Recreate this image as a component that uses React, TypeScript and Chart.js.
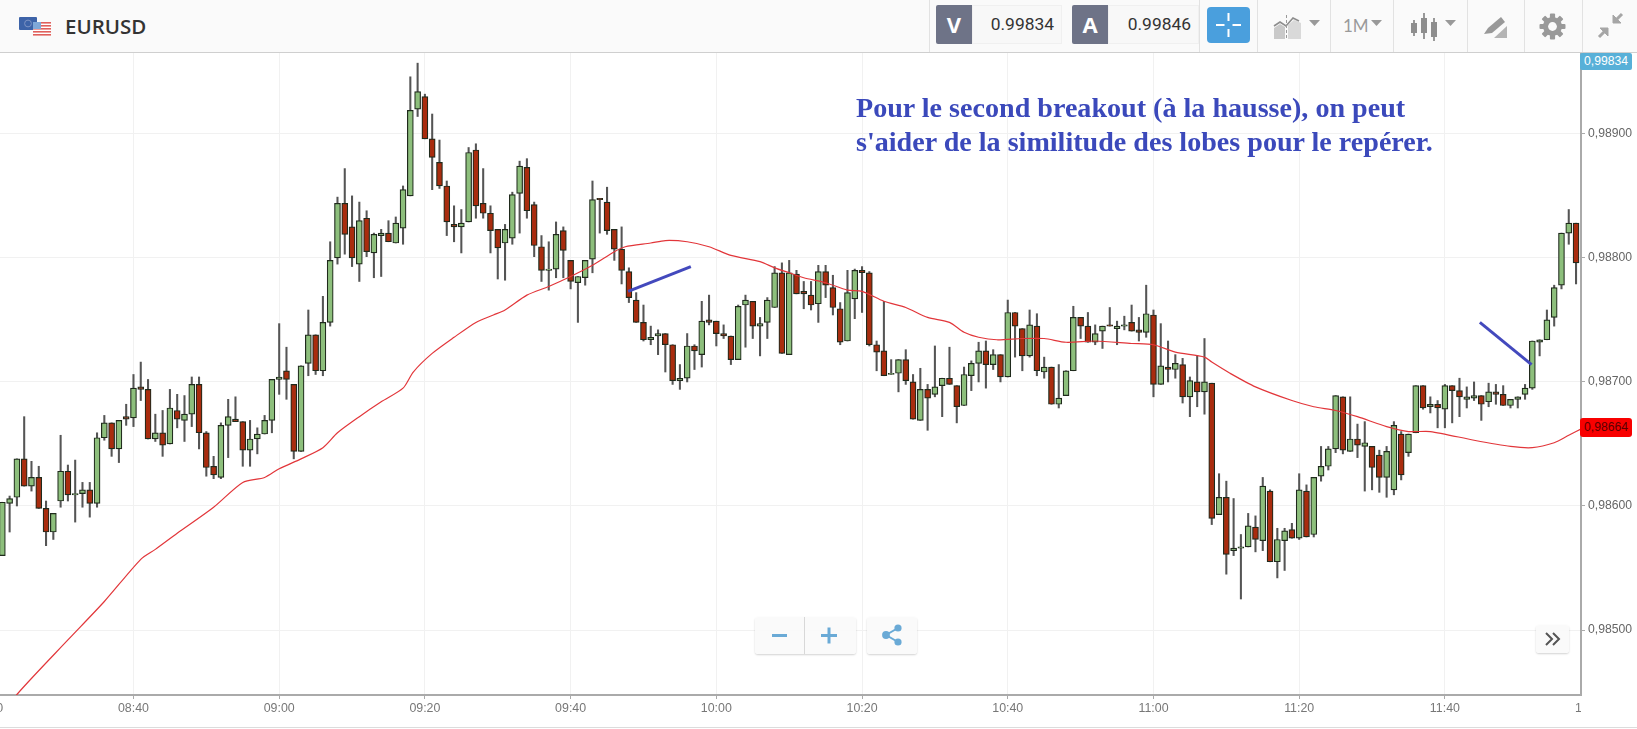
import React, { useEffect, useRef } from "react";
import { Chart, registerables } from "chart.js";

Chart.register(...registerables);

// Prices are in points of 0.00001. First candle is 18 minutes before 08:40.
const firstMinute = -18;
const opens = [
  98560, 98602, 98607, 98638, 98616, 98623, 98598, 98579, 98604, 98628,
  98609, 98610, 98613, 98602, 98655, 98667, 98646, 98672,
  98671, 98696, 98694, 98654, 98659, 98650, 98677, 98669, 98674, 98698,
  98659, 98632, 98623, 98665, 98670, 98668, 98645, 98654, 98658, 98669,
  98702, 98709, 98698, 98644, 98715, 98738, 98709, 98748, 98800, 98844,
  98825, 98795, 98832, 98804, 98818, 98820, 98812, 98824, 98850, 98920,
  98930, 98896, 98877, 98858, 98827, 98825, 98829, 98887, 98844, 98836,
  98823, 98812, 98816, 98852, 98873, 98843, 98809, 98790, 98791, 98822,
  98798, 98780, 98784, 98799, 98848, 98845, 98823, 98807, 98789, 98766,
  98748, 98734, 98737, 98739, 98730, 98701, 98703, 98729, 98722, 98750,
  98749, 98739, 98737, 98718, 98762, 98765, 98745, 98748, 98760, 98788,
  98722, 98787, 98773, 98770, 98763, 98789, 98776, 98759, 98733, 98767,
  98790, 98788, 98730, 98725, 98706, 98707, 98718, 98700, 98669, 98694,
  98690, 98697, 98703, 98697, 98681, 98705, 98715, 98725, 98714, 98722,
  98704, 98756, 98743, 98721, 98745, 98708, 98712, 98682, 98689, 98709,
  98752, 98745, 98732, 98741, 98746, 98743, 98745, 98748, 98742, 98740,
  98754, 98698, 98712, 98710, 98714, 98688, 98700, 98692, 98699, 98593,
  98607, 98564, 98566, 98567, 98583, 98572, 98612, 98555, 98572, 98581,
  98574, 98612, 98577, 98624, 98632, 98646, 98688, 98644, 98654, 98648,
  98648, 98641, 98623, 98613, 98658, 98643, 98659, 98697, 98680, 98682,
  98678, 98697, 98693, 98686, 98687, 98689, 98684, 98692, 98690, 98681,
  98686, 98690, 98695, 98732, 98734, 98752, 98778, 98820, 98828,
];
const closes = [
  98603, 98606, 98638, 98616, 98623, 98598, 98579, 98594, 98628, 98609,
  98609, 98613, 98602, 98655, 98667, 98646, 98669, 98670,
  98695, 98694, 98654, 98659, 98649, 98679, 98670, 98674, 98698, 98659,
  98631, 98625, 98665, 98672, 98668, 98645, 98654, 98658, 98669, 98702,
  98704, 98702, 98644, 98713, 98738, 98709, 98748, 98798, 98844, 98819,
  98800, 98830, 98805, 98819, 98820, 98813, 98828, 98855, 98919, 98934,
  98896, 98881, 98858, 98829, 98825, 98828, 98885, 98842, 98836, 98822,
  98808, 98823, 98851, 98874, 98838, 98810, 98790, 98791, 98819, 98806,
  98781, 98785, 98798, 98847, 98847, 98822, 98807, 98790, 98768, 98748,
  98734, 98736, 98739, 98730, 98701, 98703, 98729, 98725, 98749, 98748,
  98739, 98737, 98718, 98761, 98766, 98745, 98747, 98766, 98788, 98723,
  98788, 98771, 98771, 98762, 98789, 98778, 98760, 98732, 98772, 98790,
  98788, 98730, 98724, 98705, 98707, 98718, 98701, 98670, 98694, 98687,
  98696, 98703, 98698, 98680, 98706, 98715, 98725, 98714, 98722, 98704,
  98756, 98745, 98721, 98746, 98709, 98712, 98682, 98687, 98709, 98752,
  98745, 98732, 98739, 98745, 98745, 98745, 98746, 98741, 98740, 98755,
  98698, 98713, 98710, 98715, 98688, 98701, 98692, 98700, 98590, 98607,
  98561, 98566, 98566, 98584, 98573, 98616, 98555, 98573, 98580, 98574,
  98613, 98575, 98623, 98632, 98646, 98689, 98645, 98654, 98649, 98651,
  98631, 98623, 98644, 98665, 98625, 98658, 98697, 98679, 98682, 98679,
  98697, 98693, 98688, 98688, 98689, 98682, 98692, 98690, 98681, 98686,
  98688, 98695, 98733, 98734, 98750, 98776, 98820, 98828, 98796,
];
const highs = [
  98603, 98608, 98638, 98672, 98636, 98632, 98604, 98594, 98657, 98633,
  98637, 98619, 98619, 98659, 98673, 98667, 98669, 98682,
  98706, 98716, 98702, 98674, 98677, 98694, 98690, 98689, 98704, 98704,
  98660, 98640, 98667, 98686, 98688, 98668, 98669, 98663, 98673, 98702,
  98747, 98728, 98698, 98713, 98758, 98738, 98769, 98813, 98849, 98872,
  98850, 98845, 98838, 98820, 98823, 98830, 98833, 98858, 98946, 98957,
  98932, 98916, 98895, 98862, 98842, 98839, 98889, 98892, 98872, 98842,
  98823, 98827, 98853, 98878, 98880, 98845, 98818, 98813, 98829, 98825,
  98798, 98785, 98798, 98862, 98848, 98857, 98823, 98825, 98792, 98772,
  98762, 98745, 98742, 98739, 98730, 98714, 98739, 98730, 98765, 98770,
  98749, 98746, 98737, 98762, 98770, 98765, 98752, 98768, 98793, 98796,
  98798, 98790, 98781, 98781, 98794, 98794, 98786, 98764, 98790, 98791,
  98793, 98789, 98733, 98765, 98718, 98718, 98726, 98706, 98711, 98698,
  98729, 98703, 98728, 98697, 98712, 98717, 98732, 98733, 98726, 98722,
  98766, 98756, 98743, 98758, 98755, 98720, 98712, 98714, 98709, 98761,
  98752, 98756, 98746, 98745, 98760, 98749, 98753, 98762, 98752, 98778,
  98758, 98747, 98733, 98722, 98719, 98704, 98721, 98735, 98699, 98626,
  98620, 98606, 98577, 98594, 98592, 98623, 98613, 98582, 98582, 98586,
  98626, 98617, 98623, 98648, 98648, 98689, 98688, 98688, 98666, 98668,
  98648, 98645, 98648, 98668, 98660, 98658, 98697, 98697, 98688, 98685,
  98698, 98697, 98703, 98696, 98700, 98689, 98699, 98698, 98697, 98686,
  98688, 98698, 98733, 98734, 98758, 98778, 98820, 98839, 98828,
];
const lows = [
  98560, 98579, 98600, 98616, 98612, 98598, 98568, 98573, 98599, 98604,
  98587, 98599, 98591, 98599, 98653, 98640, 98635, 98665,
  98664, 98685, 98654, 98652, 98640, 98650, 98663, 98652, 98664, 98646,
  98624, 98622, 98622, 98639, 98668, 98632, 98632, 98642, 98658, 98659,
  98690, 98686, 98638, 98644, 98705, 98706, 98705, 98745, 98795, 98803,
  98793, 98781, 98801, 98784, 98785, 98813, 98812, 98811, 98850, 98914,
  98896, 98855, 98856, 98818, 98813, 98804, 98829, 98832, 98832, 98804,
  98783, 98782, 98811, 98820, 98832, 98801, 98781, 98774, 98784, 98784,
  98775, 98748, 98778, 98788, 98820, 98819, 98798, 98779, 98764, 98748,
  98733, 98730, 98722, 98708, 98698, 98694, 98700, 98710, 98712, 98746,
  98729, 98735, 98714, 98718, 98728, 98735, 98721, 98735, 98760, 98723,
  98722, 98771, 98759, 98758, 98748, 98768, 98754, 98730, 98733, 98751,
  98756, 98729, 98709, 98705, 98706, 98692, 98698, 98670, 98669, 98661,
  98688, 98672, 98698, 98667, 98681, 98693, 98700, 98695, 98710, 98700,
  98704, 98720, 98709, 98720, 98705, 98703, 98682, 98679, 98689, 98709,
  98735, 98732, 98730, 98727, 98745, 98730, 98742, 98741, 98733, 98736,
  98688, 98698, 98700, 98703, 98683, 98672, 98680, 98674, 98585, 98593,
  98545, 98560, 98525, 98567, 98563, 98564, 98555, 98542, 98548, 98574,
  98573, 98575, 98575, 98620, 98629, 98643, 98642, 98644, 98639, 98612,
  98613, 98611, 98607, 98609, 98621, 98640, 98659, 98678, 98675, 98663,
  98663, 98667, 98672, 98679, 98685, 98669, 98680, 98682, 98681, 98679,
  98679, 98686, 98694, 98721, 98734, 98745, 98775, 98811, 98779,
];

// Moving average, read at these minutes.
const maMinutes = [
  -18, -16, -9, -4, 1, 3, 6, 11, 15, 18, 20, 23, 26, 28, 31, 34, 37, 38.4, 41, 44, 47, 49.4, 51, 54, 57,
  60, 63, 66, 67.5, 71, 73, 76, 79, 82, 86, 88, 90, 92, 95, 98, 100, 103, 106, 109, 112, 114, 116,
  118.5, 122, 125, 128, 132, 137, 140, 143, 147, 148, 150.5, 154, 159, 162, 165, 168, 172, 175,
  178, 184, 189, 192, 195, 197, 199,
];
const maValues = [
  98430, 98448, 98492, 98523, 98557, 98565, 98578, 98599, 98619, 98623, 98630, 98638, 98647, 98659, 98672, 98684,
  98695, 98708, 98723, 98736, 98748, 98754, 98758, 98770, 98777,
  98785, 98794, 98805, 98809, 98812, 98814, 98813, 98809, 98802, 98797, 98792, 98788, 98784, 98780,
  98774, 98773, 98765, 98760, 98752, 98748, 98740, 98736,
  98734, 98735, 98735, 98732, 98733, 98731, 98730, 98724, 98720, 98716, 98707, 98696, 98685, 98680,
  98677, 98672, 98664, 98660,
  98660, 98653, 98648, 98647, 98651, 98657, 98663,
];

// Hand drawn trend lines.
const trendOneMinutes = [67.9, 76.5];
const trendOneValues = [98773, 98793];
const trendTwoMinutes = [184.8, 191.9];
const trendTwoValues = [98748, 98714];

// Time axis.
const tickMinutes = [-20, 0, 20, 40, 60, 80, 100, 120, 140, 160, 180, 200];
const tickLabels = ["08:20", "08:40", "09:00", "09:20", "09:40", "10:00", "10:20", "10:40", "11:00", "11:20", "11:40", "12:00"];
const priceTicks = [98500, 98600, 98700, 98800, 98900];

const bidPrice = "0.99834";
const askPrice = "0.99846";
const bidTag = "0,99834";
const maTag = "0,98664";
const symbol = "EURUSD";
const noteLines = ["Pour le second breakout (à la hausse), on peut", "s'aider de la similitude des lobes pour le repérer."];

const X_MIN = -18.32;
const X_MAX = 198.68;
const Y_MIN = 98447.6;
const Y_MAX = 98966;

const GREEN = "#8dbf7c";
const RED = "#a92c0e";

const edgeLabels = {
  id: "edgeLabels",
  afterDraw(chart: any) {
    const { ctx, chartArea, scales } = chart;
    ctx.save();
    ctx.beginPath();
    ctx.rect(chartArea.left, chartArea.bottom, chartArea.right - chartArea.left, 40);
    ctx.clip();
    ctx.font = "12.4px 'Liberation Sans'";
    ctx.fillStyle = "#777";
    ctx.textAlign = "center";
    ctx.textBaseline = "middle";
    [0, tickMinutes.length - 1].forEach((i) => {
      ctx.fillText(tickLabels[i], scales.x.getPixelForValue(tickMinutes[i]), 709);
    });
    ctx.restore();
  },
};

function PriceChart() {
  const ref = useRef<HTMLCanvasElement>(null);
  useEffect(() => {
    const minute = (i: number) => firstMinute + i;
    const up = opens.map((o, i) => closes[i] >= o);
    const chart = new Chart(ref.current as any, {
      type: "bar",
      data: {
        datasets: [
          {
            type: "line",
            data: maMinutes.map((x, i) => ({ x, y: maValues[i] })),
            borderColor: "#e2363a",
            borderWidth: 1.2,
            pointRadius: 0,
            tension: 0.25,
            order: 1,
          },
          {
            type: "line",
            data: trendOneMinutes.map((x, i) => ({ x, y: trendOneValues[i] })),
            borderColor: "#4349bd",
            borderWidth: 3,
            pointRadius: 0,
            order: 0,
          },
          {
            type: "line",
            data: trendTwoMinutes.map((x, i) => ({ x, y: trendTwoValues[i] })),
            borderColor: "#4349bd",
            borderWidth: 3,
            pointRadius: 0,
            order: 0,
          },
          {
            data: opens.map((o, i) => ({
              x: minute(i),
              y: [Math.min(o, closes[i]), Math.max(o, closes[i]) + (o === closes[i] ? 1 : 0)],
            })),
            backgroundColor: up.map((u) => (u ? GREEN : RED)),
            borderColor: "#1f2a1c",
            borderWidth: 1.2,
            borderSkipped: false,
            barThickness: 6,
            grouped: false,
            order: 2,
          },
          {
            data: lows.map((l, i) => ({ x: minute(i), y: [l, highs[i]] })),
            backgroundColor: "#555",
            borderWidth: 0,
            barThickness: 1.4,
            grouped: false,
            order: 3,
          },
        ],
      } as any,
      options: {
        animation: false,
        responsive: false,
        maintainAspectRatio: false,
        layout: { padding: { top: 52, left: 0, right: 0, bottom: 0 } },
        plugins: { legend: { display: false }, tooltip: { enabled: false } },
        scales: {
          x: {
            type: "linear",
            offset: false,
            min: X_MIN,
            max: X_MAX,
            afterFit: (s: any) => {
              s.height = 34;
            },
            afterBuildTicks: (s: any) => {
              s.ticks = tickMinutes.filter((m) => m >= X_MIN && m <= X_MAX).map((value) => ({ value }));
            },
            grid: { offset: false, color: "#f1f1f1", tickColor: "#aaa", tickLength: 4, lineWidth: 1 },
            border: { color: "#aaa", width: 2 },
            ticks: {
              autoSkip: false,
              maxRotation: 0,
              padding: 2,
              color: "#777",
              font: { family: "'Liberation Sans'", size: 12.4 },
              callback: (v: any) => tickLabels[tickMinutes.indexOf(Number(v))] ?? "",
            },
          },
          y: {
            position: "right",
            min: Y_MIN,
            max: Y_MAX,
            afterFit: (s: any) => {
              s.width = 56;
            },
            afterBuildTicks: (s: any) => {
              s.ticks = priceTicks.map((value) => ({ value }));
            },
            grid: { color: "#f1f1f1", tickColor: "#aaa", tickLength: 4, lineWidth: 1 },
            border: { color: "#aaa", width: 2 },
            ticks: {
              padding: 3,
              color: "#666",
              font: { family: "'Liberation Sans'", size: 12.2 },
              callback: (v: any) => (Number(v) / 100000).toFixed(5).replace(".", ","),
            },
          },
        },
      } as any,
      plugins: [edgeLabels],
    });
    return () => chart.destroy();
  }, []);
  return <canvas ref={ref} width={1637} height={729} style={{ position: "absolute", left: 0, top: 0, width: 1637, height: 729 }} />;
}

const abs = (left: number, top: number, width: number, height: number, extra: React.CSSProperties = {}): React.CSSProperties => ({
  position: "absolute",
  left,
  top,
  width,
  height,
  ...extra,
});

const ICON = "#a6a6a6";

function Caret({ x, y }: { x: number; y: number }) {
  return (
    <svg style={abs(x, y, 11, 6)} viewBox="0 0 11 6">
      <path d="M0 0H11L5.5 6Z" fill="#999" />
    </svg>
  );
}

function PriceBox({ x, letter, value, width }: { x: number; letter: string; value: string; width: number }) {
  return (
    <>
      <div style={abs(x, 5, 36, 39, { background: "#6e7387", color: "#fff", font: "700 22px 'Open Sans'", textAlign: "center", lineHeight: "39px", borderRadius: "2px 0 0 2px" })}>{letter}</div>
      <div style={abs(x + 36, 5, width, 39, { background: "#f8f8f8", border: "1px solid #f0f0f0", boxSizing: "border-box", color: "#333", font: "400 17.4px Roboto", lineHeight: "37px", textAlign: "right", paddingRight: 7 })}>{value}</div>
    </>
  );
}

function Header() {
  return (
    <div style={abs(0, 0, 1637, 53, { background: "#fafafa", borderBottom: "1px solid #cfcfcf", boxSizing: "border-box" })}>
      <svg style={abs(19, 17, 33, 19)} viewBox="0 0 33 19">
        <rect x="0" y="0" width="18" height="13" rx="1" fill="#3d63a8" />
        <circle cx="9" cy="6.5" r="3.4" fill="none" stroke="#7d93c4" strokeWidth="1" />
        <rect x="14" y="5" width="18" height="13.5" fill="#fff" />
        {[5, 8, 11, 14, 17].map((y) => (
          <rect key={y} x="14" y={y} width="18" height="1.6" fill="#e0605c" />
        ))}
        <rect x="14" y="5" width="8" height="7" fill="#7fa8d8" />
      </svg>
      <div style={abs(65, 11, 100, 30, { font: "600 20.5px 'Open Sans'", color: "#333", lineHeight: "30px", letterSpacing: 0 })}>{symbol}</div>
      {[929, 1199, 1257, 1330, 1393, 1467, 1524, 1582].map((x) => (
        <div key={x} style={abs(x, 0, 1, 52, { background: "#e2e2e2" })} />
      ))}
      <PriceBox x={936} letter="V" value={bidPrice} width={90} />
      <PriceBox x={1072} letter="A" value={askPrice} width={91} />
      <div style={abs(1207, 7, 43, 36, { background: "#4a9fdd", borderRadius: 4 })}>
        <svg style={abs(7, 5, 29, 26)} viewBox="0 0 29 26">
          <path d="M14.5 1V9M14.5 17V25M2 13H10.5M18.5 13H27" stroke="#fff" strokeWidth="2" />
        </svg>
      </div>
      <svg style={abs(1273, 15, 29, 24)} viewBox="0 0 29 24">
        <path d="M1 13L7 9L12 12V24H1Z" fill="#c9c9c9" />
        <path d="M15 10L21 5L28 8V24H15Z" fill="#d9d9d9" />
        <path d="M1 11L7 7L13 11L20 3L26 6" fill="none" stroke="#8d8d8d" strokeWidth="1.6" />
        <path d="M13.5 0V24" stroke="#999" strokeWidth="1" strokeDasharray="3 2" />
      </svg>
      <Caret x={1309} y={20} />
      <div style={abs(1343, 14, 26, 24, { font: "400 17px Lato", color: "#9a9a9a", lineHeight: "24px" })}>1M</div>
      <Caret x={1371} y={20} />
      <svg style={abs(1410, 12, 28, 29)} viewBox="0 0 28 29">
        <path d="M4 8V24M14 1V27M24 6V29" stroke="#8e8e8e" strokeWidth="1.8" />
        <rect x="1" y="11" width="6" height="10" fill="#8e8e8e" />
        <rect x="11" y="6" width="6" height="15" fill="#8e8e8e" />
        <rect x="21" y="10" width="6" height="15" fill="#8e8e8e" />
      </svg>
      <Caret x={1445} y={20} />
      <svg style={abs(1484, 16, 24, 22)} viewBox="0 0 24 22">
        <path d="M0 18L4 12L17 1L21 6L8 17Z" fill="#999" />
        <path d="M10 22L23 10V22Z" fill="#b4b4b4" />
      </svg>
      <svg style={abs(1539, 13, 27, 27)} viewBox="-13.5 -13.5 27 27">
        {[0, 45, 90, 135].map((a) => (
          <rect key={a} x="-2.6" y="-13" width="5.2" height="26" rx="1" fill="#999" transform={`rotate(${a})`} />
        ))}
        <circle r="9.5" fill="#999" />
        <circle r="4.4" fill="#fafafa" />
      </svg>
      <svg style={abs(1597, 12, 27, 27)} viewBox="0 0 27 27">
        <path d="M16 3V11H24ZM11 24V16H3Z" fill={ICON} stroke={ICON} strokeWidth="1" />
        <path d="M18 9L25 2M9 18L2 25" stroke={ICON} strokeWidth="3" />
      </svg>
    </div>
  );
}

function Overlays() {
  const btn: React.CSSProperties = { background: "rgba(250,250,250,0.92)", boxShadow: "0 1px 2px rgba(0,0,0,0.18)", borderRadius: 3 };
  return (
    <>
      <div style={abs(1580, 53, 52, 17, { background: "#58b0d8", color: "#fff", font: "12.2px 'Liberation Sans'", textAlign: "center", lineHeight: "17px", borderRadius: 2 })}>{bidTag}</div>
      <div style={abs(1580, 418, 52, 19, { background: "#f80000", color: "#5a0000", font: "12.2px 'Liberation Sans'", textAlign: "center", lineHeight: "19px", borderRadius: 3 })}>{maTag}</div>
      <div style={abs(856, 91, 640, 70, { color: "#3b49bb", font: "700 28.1px 'Liberation Serif'", lineHeight: "33.5px", whiteSpace: "nowrap" })}>
        {noteLines.map((l) => (
          <div key={l}>{l}</div>
        ))}
      </div>
      <div style={abs(755, 617, 101, 37, btn)}>
        <div style={abs(49, 0, 1, 37, { background: "#d8d8d8" })} />
        <svg style={abs(17, 11, 17, 15)} viewBox="0 0 17 15">
          <path d="M0 7.5H15" stroke="#6aaad6" strokeWidth="3" />
        </svg>
        <svg style={abs(66, 10, 17, 17)} viewBox="0 0 17 17">
          <path d="M0 8.5H16M8 0.5V16.5" stroke="#6aaad6" strokeWidth="3" />
        </svg>
      </div>
      <div style={abs(867, 617, 50, 37, btn)}>
        <svg style={abs(14, 7, 22, 22)} viewBox="0 0 22 22">
          <path d="M17 4L5 11L17 18" stroke="#6aaad6" strokeWidth="2" fill="none" />
          <circle cx="17" cy="4" r="3.6" fill="#6aaad6" />
          <circle cx="5" cy="11" r="3.9" fill="#6aaad6" />
          <circle cx="17" cy="18" r="3.6" fill="#6aaad6" />
        </svg>
      </div>
      <div style={abs(1536, 625, 33, 28, btn)}>
        <svg style={abs(9, 7, 16, 14)} viewBox="0 0 16 14">
          <path d="M1 1L7 7L1 13M8 1L14 7L8 13" stroke="#555" strokeWidth="2" fill="none" />
        </svg>
      </div>
      <div style={abs(0, 727, 1637, 1, { background: "#dcdcdc" })} />
    </>
  );
}

export default function App() {
  return (
    <div style={{ position: "fixed", left: 0, top: 0, width: 1637, height: 729, overflow: "hidden", background: "#fff" }}>
      <PriceChart />
      <Header />
      <Overlays />
    </div>
  );
}
